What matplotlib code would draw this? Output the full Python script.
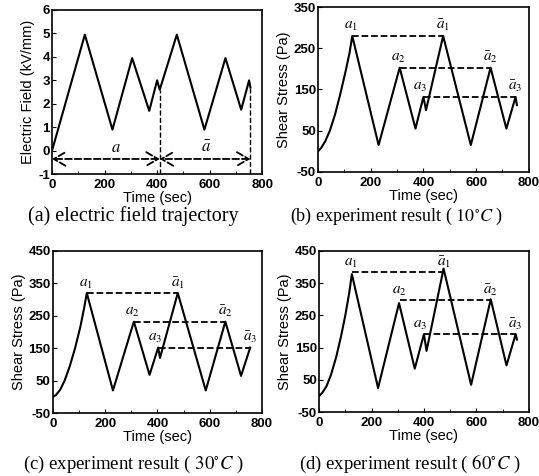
import matplotlib
matplotlib.use("Agg")
from matplotlib import pyplot as plt
from matplotlib.ticker import MultipleLocator

plt.rcParams['font.family'] = 'Liberation Sans'
plt.rcParams['mathtext.fontset'] = 'stix'
plt.rcParams['axes.unicode_minus'] = False

# electric field trajectory
t_e = [0, 125, 230, 305, 370, 400, 410, 475, 580, 660, 720, 750, 755]
e_field = [0, 4.95, 0.9, 3.95, 1.7, 3.0, 2.6, 4.95, 0.9, 3.95, 1.75, 3.0, 2.7]

# shear stress, 10 C
t_b = [0, 12, 28, 45, 65, 85, 105, 120, 130, 230, 310, 370, 400, 410, 475, 580, 655, 715, 750, 755]
s_b = [0, 8, 25, 50, 90, 140, 195, 240, 280, 15, 203, 55, 132, 100, 280, 15, 203, 55, 132, 112]
# shear stress, 30 C
t_c = [0, 12, 28, 45, 65, 85, 105, 120, 130, 230, 310, 370, 403, 410, 478, 585, 660, 720, 755]
s_c = [0, 6, 22, 50, 95, 150, 215, 275, 320, 20, 232, 68, 152, 120, 320, 20, 232, 65, 152]
# shear stress, 60 C
t_d = [0, 12, 28, 45, 65, 85, 100, 115, 125, 225, 305, 365, 400, 410, 475, 580, 655, 715, 750, 755]
s_d = [0, 10, 30, 65, 120, 190, 250, 320, 378, 25, 288, 85, 192, 140, 395, 35, 300, 95, 192, 175]

# dashed peak levels: (level, x start, x end)
lev_b = [(280, 130, 475), (203, 310, 655), (132, 403, 750)]
lev_c = [(320, 130, 478), (232, 310, 660), (152, 405, 755)]
lev_d = [(383, 125, 475), (298, 310, 655), (192, 400, 750)]

captions = ["(a) electric field trajectory",
            r"(b) experiment result ( $10^{\circ}C$ )",
            r"(c) experiment result ( $30^{\circ}C$ )",
            r"(d) experiment result ( $60^{\circ}C$ )"]

fig = plt.figure(figsize=(5.39, 4.76), dpi=100)
ax_a = fig.add_axes([0.0965, 0.634, 0.390, 0.345])
ax_b = fig.add_axes([0.590, 0.639, 0.391, 0.346])
ax_c = fig.add_axes([0.098, 0.132, 0.388, 0.341])
ax_d = fig.add_axes([0.592, 0.134, 0.389, 0.339])


def style(ax):
    ax.set_xlim(0, 800)
    ax.xaxis.set_major_locator(MultipleLocator(200))
    ax.xaxis.set_minor_locator(MultipleLocator(100))
    ax.tick_params(which='both', direction='in', labelsize=9.5, length=3)
    ax.tick_params(axis='x', pad=3.5)
    ax.tick_params(axis='y', pad=1.5)
    ax.tick_params(which='minor', length=2)
    for lab in ax.get_xticklabels() + ax.get_yticklabels():
        lab.set_fontweight('bold')
    ax.set_xlabel("Time (sec)", fontsize=10.5, labelpad=0)
    for sp in ax.spines.values():
        sp.set_linewidth(1.2)


# (a)
ax_a.plot(t_e, e_field, color='k', lw=1.5)
ax_a.set_ylim(-1, 6)
ax_a.set_yticks(range(-1, 7))
ax_a.set_ylabel("Electric Field (kV/mm)", fontsize=10.5, labelpad=2)
style(ax_a)
ax_a.plot([410, 410], [-1, 2.6], 'k--', lw=1)
ax_a.plot([755, 755], [-1, 2.7], 'k--', lw=1)
arrow = dict(arrowstyle='<->,head_length=0.6,head_width=0.35', linestyle='--', lw=1.3,
             color='k', mutation_scale=14, shrinkA=0, shrinkB=0)
ax_a.annotate("", xy=(0, -0.35), xytext=(410, -0.35), arrowprops=arrow)
ax_a.annotate("", xy=(410, -0.35), xytext=(755, -0.35), arrowprops=arrow)
ax_a.text(245, -0.05, r"$a$", fontsize=12, ha='center')
ax_a.text(585, -0.05, r"$\bar{a}$", fontsize=12, ha='center')

# (b), (c), (d)
for ax, t, s, lev, ylim in [(ax_b, t_b, s_b, lev_b, 350),
                            (ax_c, t_c, s_c, lev_c, 450),
                            (ax_d, t_d, s_d, lev_d, 450)]:
    ax.plot(t, s, color='k', lw=1.5)
    ax.set_ylim(-50, ylim)
    ax.set_yticks(range(-50, ylim + 1, 100))
    ax.set_ylabel("Shear Stress (Pa)", fontsize=10.5, labelpad=2)
    style(ax)
    for i, (y, x0, x1) in enumerate(lev):
        ax.plot([x0, x1], [y, y], 'k--', lw=1.3)
        dy = 0.04 * (ylim + 50)
        ax.text(x0 - 5 if i < 2 else x0 - 15, y + dy, r"$a_%d$" % (i + 1),
                fontsize=11, ha='center')
        ax.text(x1, y + dy, r"$\bar{a}_%d$" % (i + 1), fontsize=11, ha='center')

fig.text(0.247, 0.535, captions[0], fontsize=14.5, family='Liberation Serif', ha='center')
fig.text(0.735, 0.535, captions[1], fontsize=13, family='Liberation Serif', ha='center')
fig.text(0.247, 0.014, captions[2], fontsize=13.5, family='Liberation Serif', ha='center')
fig.text(0.760, 0.014, captions[3], fontsize=13.5, family='Liberation Serif', ha='center')

plt.savefig("out.png", dpi=100)
